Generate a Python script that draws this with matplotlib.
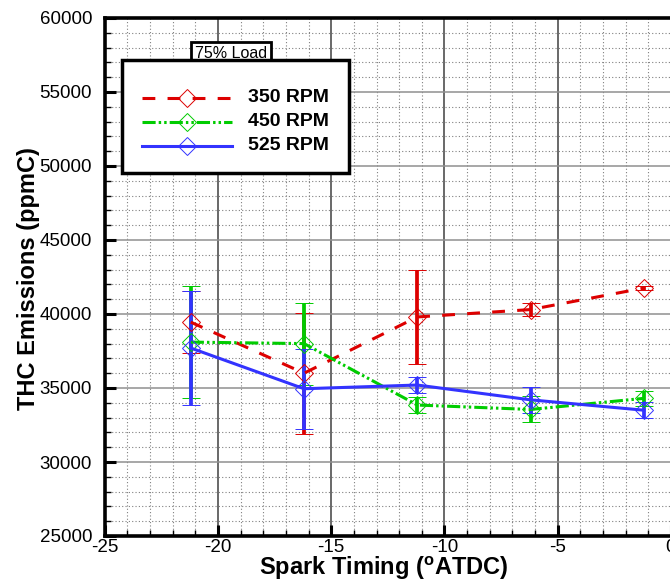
import matplotlib
matplotlib.use("Agg")
import matplotlib.pyplot as plt
from matplotlib.lines import Line2D
from matplotlib.patches import Rectangle
from matplotlib.ticker import MultipleLocator

# ---------------- data ----------------
spark_timing = [-21.2, -16.2, -11.2, -6.2, -1.2]
series_labels = ["350 RPM", "450 RPM", "525 RPM"]
thc_350 = [39450, 36000, 39800, 40300, 41750]
err_350 = [2100, 4100, 3150, 420, 150]
thc_450 = [38100, 38000, 33850, 33550, 34300]
err_450 = [3800, 2770, 530, 880, 500]
thc_525 = [37700, 34950, 35200, 34200, 33500]
err_525 = [3830, 2700, 540, 890, 530]
x_ticks = [-25, -20, -15, -10, -5, 0]
y_ticks = [25000, 30000, 35000, 40000, 45000, 50000, 55000, 60000]
load_label = "75% Load"

W, H = 670, 586
plt.rcParams['font.family'] = ['Liberation Sans', 'DejaVu Sans']
fig = plt.figure(figsize=(W / 100, H / 100), dpi=100)

def fx(p):
    return p / W

def fy(p):
    return 1 - p / H

ax_l, ax_r, ax_t, ax_b = 104.7, 671.0, 18.0, 536.0
ax = fig.add_axes([fx(ax_l), fy(ax_b), fx(ax_r - ax_l), (ax_b - ax_t) / H])

colors = ["#dd0000", "#00cc00", "#3333ff"]
lstyles = [(0, (4.2, 4.0)), (0, (4.3, 1.0, 0.8, 1.0, 0.8, 1.0)), "-"]
data = [(thc_350, err_350), (thc_450, err_450), (thc_525, err_525)]
lw = 2.2
elw = 2.7
ms = 9

for (yv, ev), c, ls in zip(data, colors, lstyles):
    eb = ax.errorbar(spark_timing, yv, yerr=ev, color=c, ls=ls, lw=lw,
                     marker="D", ms=ms, mfc="none", mec=c, mew=0.7,
                     elinewidth=elw, capsize=6.5, capthick=elw, zorder=3)
    eb[0].set_dash_capstyle("butt")

ax.set_xlim(-25, 0)
ax.set_ylim(25000, 60000)
ax.set_xticks(x_ticks)
ax.set_yticks(y_ticks)
ax.set_xticklabels([str(v) for v in x_ticks])
ax.set_yticklabels([str(v) for v in y_ticks])
ax.xaxis.set_minor_locator(MultipleLocator(1))
ax.yaxis.set_minor_locator(MultipleLocator(1000))

ax.tick_params(which="major", direction="in", length=8, width=2.2,
               labelsize=13.5, top=False, right=False)
ax.tick_params(axis="x", which="major", pad=2)
ax.tick_params(axis="y", which="major", pad=9)
ax.tick_params(which="minor", direction="in", length=4, width=1.0,
               top=False, right=False)

ax.grid(which="minor", color="#808080", ls=(0, (1, 2)), lw=0.8)
ax.xaxis.grid(which="major", color="#404040", ls="-", lw=1.1)
ax.yaxis.grid(which="major", color="#909090", ls="-", lw=1.1)
ax.set_axisbelow(True)

for s in ["left", "bottom", "top"]:
    ax.spines[s].set_linewidth(2.6)
    ax.spines[s].set_color("black")
ax.spines["right"].set_visible(False)

ax.set_xlabel("Spark Timing ($\\mathregular{^o}$ATDC)", fontsize=17, fontweight="bold")
ax.set_ylabel("THC Emissions (ppmC)", fontsize=17, fontweight="bold")
ax.xaxis.set_label_coords(((ax_l + ax_r) / 2 - 4 - ax_l) / (ax_r - ax_l),
                          -(555 - ax_b) / (ax_b - ax_t))
ax.yaxis.set_label_coords(-(ax_l - 40) / (ax_r - ax_l), 0.497)

# "75% Load" label box
fig.text(fx(231), fy(53), load_label, fontsize=11.5, ha="center", va="center",
         zorder=10,
         bbox=dict(boxstyle="square,pad=0.25", fc="white", ec="black", lw=2))

# legend (drawn manually in figure pixels)
lx0, ly0, lx1, ly1 = 122, 60, 349, 173
fig.add_artist(Rectangle((fx(lx0), fy(ly1)), fx(lx1 - lx0), (ly1 - ly0) / H,
                         transform=fig.transFigure, fc="white", ec="black",
                         lw=2.5, zorder=11))
rows = [98, 122, 146]
for lab, c, ls, ry in zip(series_labels, colors, lstyles, rows):
    fig.add_artist(Line2D([fx(142), fx(232)], [fy(ry), fy(ry)], color=c, ls=ls,
                          lw=lw, transform=fig.transFigure, zorder=12,
                          dash_capstyle="butt"))
    fig.add_artist(Line2D([fx(187)], [fy(ry)], marker="D", ms=ms, mfc="none",
                          mec=c, mew=0.7, transform=fig.transFigure, zorder=13))
    fig.text(fx(248), fy(ry), lab, fontsize=14, fontweight="bold",
             ha="left", va="center", zorder=13)

fig.savefig("out.png", dpi=100)
